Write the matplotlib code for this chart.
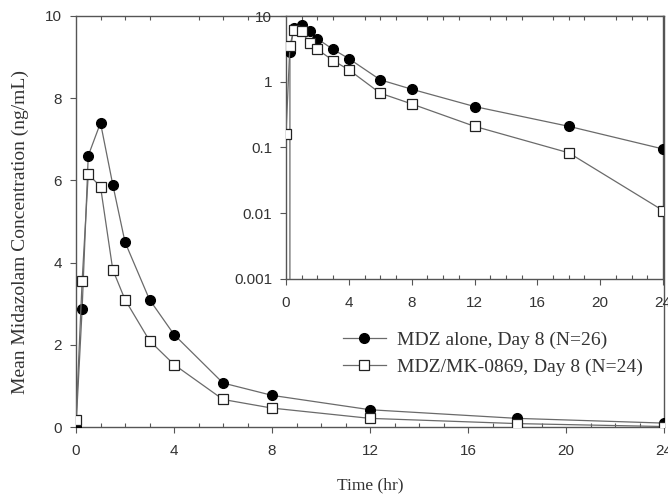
import matplotlib
matplotlib.use("Agg")
from matplotlib import pyplot as plt
from matplotlib.ticker import MultipleLocator, FixedLocator, NullLocator

# Temps de prélèvement (h) et concentrations moyennes (ng/mL)
temps = [0, 0.25, 0.5, 1, 1.5, 2, 3, 4, 6, 8, 12, 18, 24]
mdz_seul = [0.0, 2.87, 6.6, 7.4, 5.9, 4.5, 3.1, 2.25, 1.07, 0.77, 0.42, 0.21, 0.095]
mdz_mk = [0.16, 3.55, 6.15, 5.85, 3.83, 3.1, 2.1, 1.52, 0.67, 0.46, 0.21, 0.083, 0.011]

labels = ["MDZ alone, Day 8 (N=26)", "MDZ/MK-0869, Day 8 (N=24)"]
xticks = [0, 4, 8, 12, 16, 20, 24]
yticks_lin = [0, 2, 4, 6, 8, 10]
yticks_log = [0.001, 0.01, 0.1, 1, 10]
yticks_log_txt = ["0.001", "0.01", "0.1", "1", "10"]

SERIF = "Liberation Serif"
SANS = "Liberation Sans"
LIGNE = "#6a6a6a"
TEXTE = "#333333"

fig = plt.figure(figsize=(6.68, 4.94), dpi=100)


# Style commun des axes : graduations majeures vers l'extérieur, mineures vers l'intérieur
def style_axes(ax):
    for s in ax.spines.values():
        s.set_color("#555555")
        s.set_linewidth(1.0)
    ax.xaxis.set_major_locator(FixedLocator(xticks))
    ax.xaxis.set_minor_locator(MultipleLocator(1))
    ax.tick_params(axis="x", which="major", direction="out", length=4, width=0.8,
                   color="#555555", labelsize=11, labelcolor=TEXTE, pad=8)
    ax.tick_params(axis="x", which="minor", direction="in", length=3, width=0.8,
                   color="#555555", top=True)
    ax.tick_params(axis="y", which="major", direction="out", length=4, width=0.8,
                   color="#555555", labelsize=11, labelcolor=TEXTE, pad=6)
    for t in ax.get_xticklabels() + ax.get_yticklabels():
        t.set_fontfamily(SANS)


def tracer(ax, with_label=False):
    ax.plot(temps, mdz_seul, "-o", color=LIGNE, lw=0.9, ms=7,
            mfc="black", mec="black", label=labels[0] if with_label else None, zorder=3)
    ax.plot(temps, mdz_mk, "-s", color=LIGNE, lw=0.9, ms=7.5,
            mfc="white", mec="#222222", mew=0.9,
            label=labels[1] if with_label else None, zorder=3)


# Graphique principal (échelle linéaire)
ax = fig.add_axes([76 / 668, 1 - 427 / 494, 588 / 668, 411 / 494])
tracer(ax, with_label=True)
ax.set_xlim(0, 24)
ax.set_ylim(0, 10)
ax.yaxis.set_major_locator(FixedLocator(yticks_lin))
ax.yaxis.set_minor_locator(NullLocator())
style_axes(ax)
ax.set_xlabel("Time (hr)", fontfamily=SERIF, fontsize=12.5, color=TEXTE)
ax.set_ylabel("Mean Midazolam Concentration (ng/mL)", fontfamily=SERIF,
              fontsize=14, color=TEXTE)
ax.xaxis.label.set_verticalalignment("center")
ax.xaxis.set_label_coords(0.5, -(485 - 427) / 411)
ax.yaxis.label.set_verticalalignment("center")
ax.yaxis.set_label_coords(-(76 - 20) / 588, (427 - 232) / 411)

leg = fig.legend(loc="upper left", bbox_to_anchor=(343 / 668, 1 - 331 / 494),
                 frameon=False, borderpad=0, borderaxespad=0,
                 handlelength=2.2, handletextpad=0.6, labelspacing=0.5,
                 prop={"family": SERIF, "size": 14})
for t in leg.get_texts():
    t.set_color(TEXTE)

# Encart en échelle logarithmique
axi = fig.add_axes([286 / 668, 1 - 279 / 494, 377 / 668, 263 / 494])
axi.set_facecolor("white")
tracer(axi)
axi.set_yscale("log")
axi.set_xlim(0, 24)
axi.set_ylim(0.001, 10)
axi.yaxis.set_major_locator(FixedLocator(yticks_log))
axi.yaxis.set_minor_locator(NullLocator())
axi.set_yticklabels(yticks_log_txt)
style_axes(axi)

fig.savefig("out.png", dpi=100)
